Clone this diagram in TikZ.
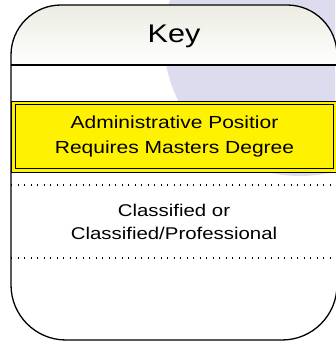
\documentclass[tikz,border=0pt]{standalone}
\usepackage{fontspec}
\setmainfont{Liberation Sans}
\newcommand{\wide}[1]{\scalebox{1.2}[1]{#1}}
\definecolor{keyshade}{RGB}{236,236,227}
\definecolor{lilac}{RGB}{221,219,238}

\begin{document}
\begin{tikzpicture}[x=1pt, y=1pt,
                    outline/.style = {draw=black, line width=1.3pt},
                    label/.style = {inner sep=0pt, align=center},
                    dots/.style = {line width=1.1pt, dash pattern=on 1.1pt off 5.4pt, black}
                ]
                    \useasboundingbox (0,0) rectangle (335,343);
                    \begin{scope}
                        \clip (0,0) rectangle (335,343);
                        \fill[lilac] (300,303) circle (136);
                    \end{scope}

                    \shade[top color=keyshade, bottom color=white] (11,278) -- (11,288) arc[start angle=180, end angle=90, radius=50] -- (287,338) arc[start angle=90, end angle=0, radius=50] -- (337,278) -- cycle;
                    \draw[line width=1.5pt] (11,278) -- (337,278);

                    \node[label, font=\fontsize{25.5}{30}\selectfont, anchor=base] (key) at (174,300) {\wide{Key}};

                    \node[draw=black, fill=yellow, double=yellow, double distance=2.5pt, line width=1pt,
                          minimum width=322pt, minimum height=67.5pt, inner sep=0pt, align=center,
                          font=\fontsize{17.5}{25}\selectfont] (admin) at (174.5,206.25)
                          {\wide{Administrative Positior}\\\wide{Requires Masters Degree}};

                    \draw[dots] (11,158) -- (337,158);
                    \node[label, font=\fontsize{17}{23}\selectfont] (cls) at (174,121)
                          {\wide{Classified or}\\\wide{Classified/Professional}};
                    \draw[dots] (11,85) -- (337,85);

                    \draw[outline] (11,278) -- (11,288) arc[start angle=180, end angle=90, radius=50] -- (287,338) arc[start angle=90, end angle=0, radius=50] -- (337,58) arc[start angle=0, end angle=-90, radius=55] -- (66,3) arc[start angle=270, end angle=180, radius=55] -- cycle;
                \end{tikzpicture}
\end{document}
